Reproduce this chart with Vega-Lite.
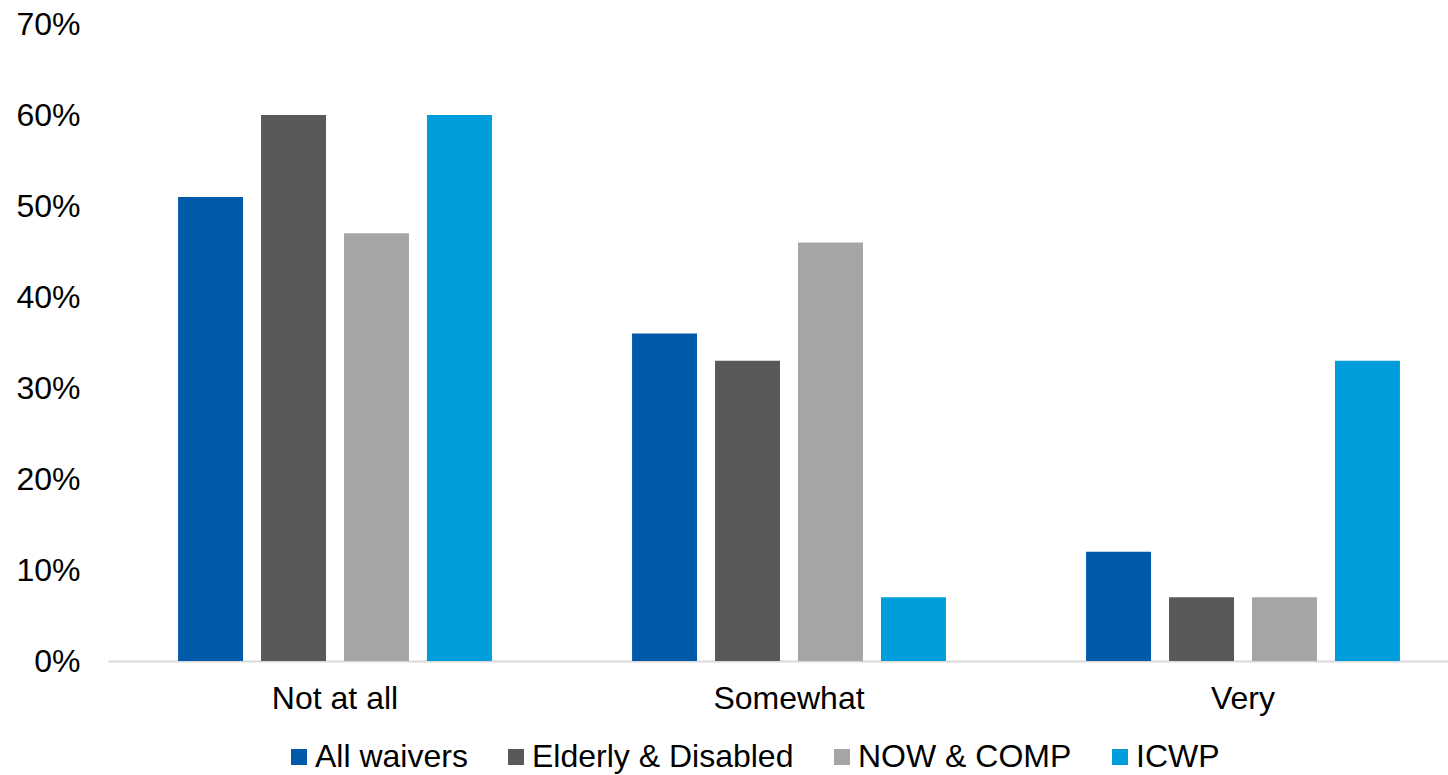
{
  "$schema": "https://vega.github.io/schema/vega-lite/v6.json",
  "width": 1340,
  "height": 637,
  "autosize": {"type": "none"},
  "padding": {"left": 108, "top": 24, "right": 0, "bottom": 114},
  "background": "white",
  "config": {
    "view": {"stroke": null},
    "font": "Liberation Sans"
  },
  "data": {
    "values": [
      {"level": "Not at all", "group": "All waivers", "value": 0.51},
      {"level": "Not at all", "group": "Elderly & Disabled", "value": 0.60},
      {"level": "Not at all", "group": "NOW & COMP", "value": 0.47},
      {"level": "Not at all", "group": "ICWP", "value": 0.60},
      {"level": "Somewhat", "group": "All waivers", "value": 0.36},
      {"level": "Somewhat", "group": "Elderly & Disabled", "value": 0.33},
      {"level": "Somewhat", "group": "NOW & COMP", "value": 0.46},
      {"level": "Somewhat", "group": "ICWP", "value": 0.07},
      {"level": "Very", "group": "All waivers", "value": 0.12},
      {"level": "Very", "group": "Elderly & Disabled", "value": 0.07},
      {"level": "Very", "group": "NOW & COMP", "value": 0.07},
      {"level": "Very", "group": "ICWP", "value": 0.33}
    ]
  },
  "mark": {"type": "bar"},
  "encoding": {
    "x": {
      "field": "level",
      "type": "nominal",
      "sort": ["Not at all", "Somewhat", "Very"],
      "scale": {"range": [0, 1362], "paddingInner": 0.269, "paddingOuter": 0.1345},
      "axis": {
        "title": null,
        "labelAngle": 0,
        "labelFontSize": 32,
        "labelColor": "#000000",
        "labelPadding": 22,
        "ticks": false,
        "domainColor": "#D9D9D9",
        "domainWidth": 2
      }
    },
    "xOffset": {
      "field": "group",
      "type": "nominal",
      "sort": ["All waivers", "Elderly & Disabled", "NOW & COMP", "ICWP"],
      "scale": {"paddingInner": 0.217, "paddingOuter": 0.1085}
    },
    "y": {
      "field": "value",
      "type": "quantitative",
      "scale": {"domain": [0, 0.7], "nice": false},
      "axis": {
        "title": null,
        "format": ".0%",
        "values": [0, 0.1, 0.2, 0.3, 0.4, 0.5, 0.6, 0.7],
        "labelFontSize": 32,
        "labelColor": "#000000",
        "labelPadding": 28,
        "ticks": false,
        "domain": false,
        "grid": false
      }
    },
    "color": {
      "field": "group",
      "type": "nominal",
      "sort": ["All waivers", "Elderly & Disabled", "NOW & COMP", "ICWP"],
      "scale": {
        "domain": ["All waivers", "Elderly & Disabled", "NOW & COMP", "ICWP"],
        "range": ["#0059A9", "#595959", "#A5A5A5", "#009DDC"]
      },
      "legend": {
        "title": null,
        "orient": "none",
        "legendX": 175,
        "legendY": 717,
        "direction": "horizontal",
        "columns": 4,
        "columnPadding": 32,
        "symbolType": "square",
        "symbolSize": 256,
        "symbolStrokeWidth": 0,
        "labelFontSize": 32,
        "labelColor": "#000000",
        "labelOffset": 0,
        "labelLimit": 400
      }
    }
  }
}
